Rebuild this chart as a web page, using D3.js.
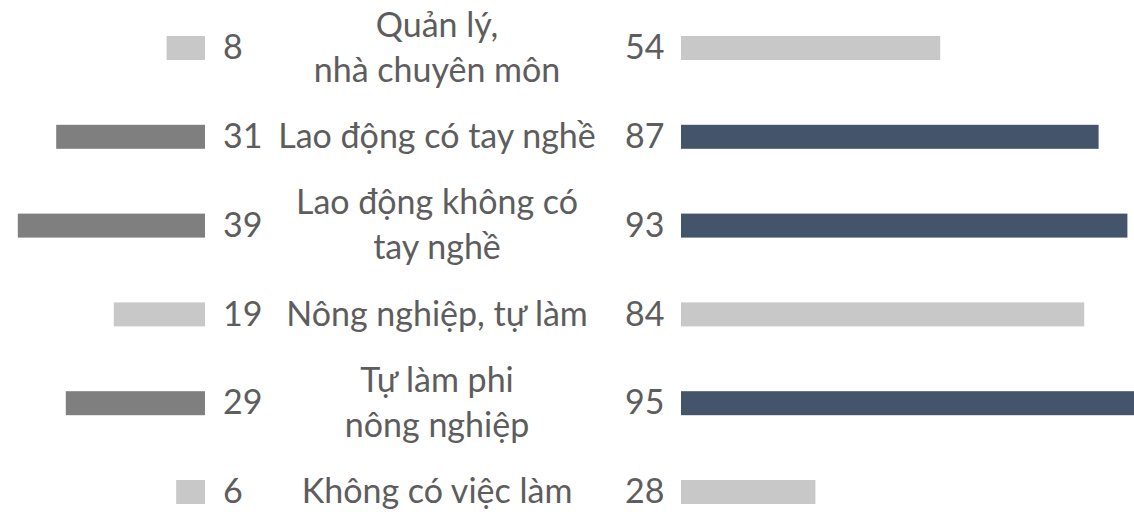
<!DOCTYPE html>
<html>
<head>
<meta charset="utf-8">
<script src="https://cdn.jsdelivr.net/npm/d3@7"></script>
<style>
  html, body { margin: 0; padding: 0; background: #fff; }
  svg { display: block; }
  text { font-family: Lato, "Open Sans", sans-serif; fill: #5d5d5d; }
</style>
</head>
<body>
<svg id="chart"></svg>
<script>
// rows, top to bottom
const categories = ['Quản lý, nhà chuyên môn', 'Lao động có tay nghề', 'Lao động không có tay nghề',
  'Nông nghiệp, tự làm', 'Tự làm phi nông nghiệp', 'Không có việc làm']
// how each label is broken over lines
const labelLines = [['Quản lý,', 'nhà chuyên môn'], ['Lao động có tay nghề'], ['Lao động không có', 'tay nghề'],
  ['Nông nghiệp, tự làm'], ['Tự làm phi', 'nông nghiệp'], ['Không có việc làm']]
const leftValues = [8, 31, 39, 19, 29, 6]
const rightValues = [54, 87, 93, 84, 95, 28]
const highlighted = ['Lao động có tay nghề', 'Lao động không có tay nghề', 'Tự làm phi nông nghiệp']

const width = 1134, height = 512
const leftEdge = 205    // where the left bars end
const rightEdge = 681   // where the right bars start
const barH = 24
const fontSize = 34
const lineGap = 45

const svg = d3.select('#chart').attr('width', width).attr('height', height)

const y = d3.scalePoint().domain(categories).range([48, 492])
const x = d3.scaleLinear().domain([0, 100]).range([0, 480])

const rows = categories.map((c, i) => ({
  cat: c, lines: labelLines[i], left: leftValues[i], right: rightValues[i],
  hi: highlighted.includes(c)
}))

// left bars
svg.append('g').selectAll('rect').data(rows).join('rect')
  .attr('x', d => leftEdge - x(d.left))
  .attr('y', d => y(d.cat) - barH / 2)
  .attr('width', d => x(d.left))
  .attr('height', barH)
  .attr('fill', d => d.hi ? '#7f7f7f' : '#c8c8c8')

// right bars
svg.append('g').selectAll('rect').data(rows).join('rect')
  .attr('x', rightEdge)
  .attr('y', d => y(d.cat) - barH / 2)
  .attr('width', d => x(d.right))
  .attr('height', barH)
  .attr('fill', d => d.hi ? '#44546a' : '#c8c8c8')

// value labels
svg.append('g').selectAll('text').data(rows).join('text')
  .attr('x', 223)
  .attr('y', d => y(d.cat))
  .attr('dy', '0.33em')
  .style('font-size', fontSize + 'px')
  .text(d => d.left)

svg.append('g').selectAll('text').data(rows).join('text')
  .attr('x', 625)
  .attr('y', d => y(d.cat))
  .attr('dy', '0.33em')
  .style('font-size', fontSize + 'px')
  .text(d => d.right)

// category labels, centred between the two sides
const lab = svg.append('g').selectAll('text').data(rows).join('text')
  .attr('x', 437)
  .attr('y', d => y(d.cat) - (d.lines.length - 1) * lineGap / 2)
  .attr('text-anchor', 'middle')
  .style('font-size', fontSize + 'px')

lab.selectAll('tspan').data(d => d.lines).join('tspan')
  .attr('x', 437)
  .attr('dy', (d, i) => i === 0 ? '0.33em' : lineGap)
  .text(d => d)
</script>
</body>
</html>
